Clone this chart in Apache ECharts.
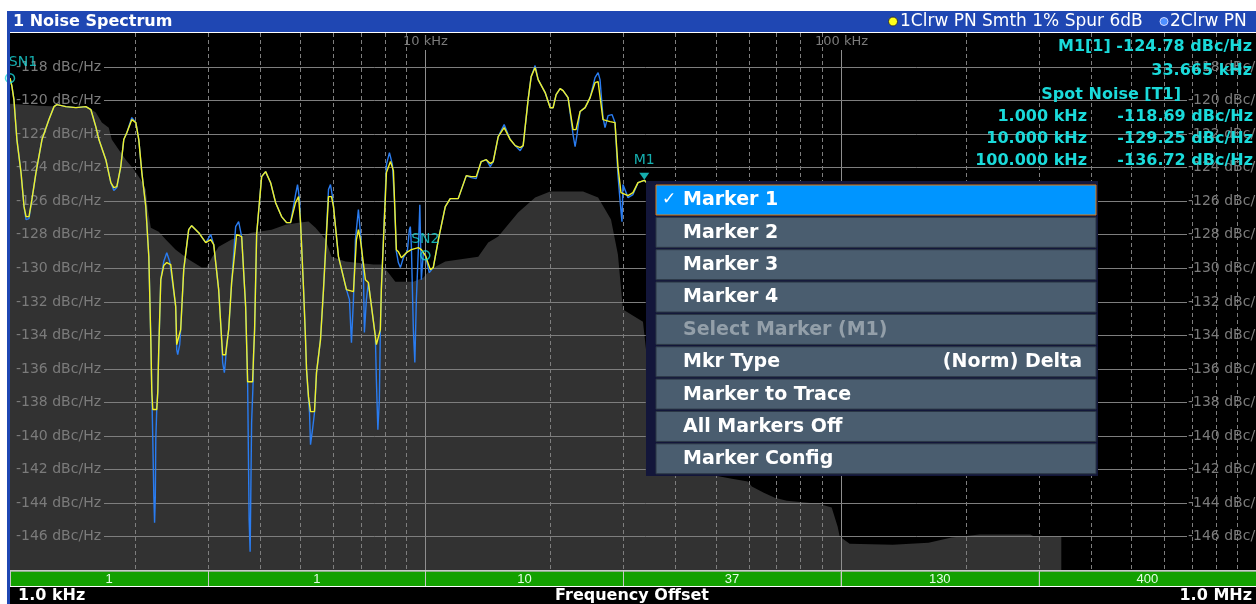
<!DOCTYPE html>
<html>
<head>
<meta charset="utf-8">
<script src="https://cdn.jsdelivr.net/npm/echarts@6/dist/echarts.min.js"></script>
<style>
  html, body { margin: 0; padding: 0; background: #ffffff; }
  #chart { width: 1256px; height: 604px; }
</style>
</head>
<body>
<div id="chart"></div>
<script>
// ---- axis ticks (frequency in kHz, level in dBc/Hz) ----
const yTicks = [-118, -120, -122, -124, -126, -128, -130, -132, -134, -136, -138, -140, -142, -144, -146];
const xMinorTicks = [2, 3, 4, 5, 6, 7, 8, 9, 20, 30, 40, 50, 60, 70, 80, 90, 200, 300, 400, 500, 600, 700, 800, 900];
const xDecadeTicks = [10, 100];

// ---- half-decade band strip under the diagram ----
const bandEdges = [1, 3, 10, 30, 100, 300, 1000];
const bandLabels = ['1', '1', '10', '37', '130', '400'];

// ---- grey reference profile [kHz, dBc/Hz] ----
const fillProfile = [
  [1.000,-120.21],[1.174,-120.33],[1.548,-120.45],[1.609,-120.74],[1.664,-121.34],[1.729,-121.64],
  [1.758,-122.35],[1.828,-122.95],[1.900,-123.55],[1.987,-124.14],[2.065,-124.74],[2.123,-125.33],
  [2.147,-126.52],[2.183,-127.60],[2.281,-127.84],[2.371,-128.31],[2.506,-128.91],[2.693,-129.50],
  [2.895,-129.98],[2.976,-129.98],[3.060,-129.39],[3.180,-128.73],[3.417,-128.31],[3.817,-127.90],
  [4.265,-127.72],[4.608,-127.42],[4.952,-127.30],[5.233,-127.24],[5.440,-127.60],[5.750,-128.31],
  [5.943,-129.33],[6.423,-129.62],[7.499,-129.80],[7.836,-129.80],[8.149,-130.28],[8.469,-130.82],
  [9.357,-130.82],[9.890,-130.58],[10.28,-130.10],[11.17,-129.62],[13.41,-129.33],[14.17,-128.49],
  [14.98,-128.13],[16.73,-126.70],[18.38,-125.81],[19.98,-125.45],[23.98,-125.45],[26.06,-125.81],
  [27.99,-127.12],[29.09,-129.21],[29.91,-132.48],[33.42,-133.20],[36.33,-141.42],[50.07,-142.38],
  [54.70,-142.56],[59.77,-142.73],[61.11,-143.03],[65.30,-143.39],[69.40,-143.69],[74.16,-143.87],
  [88.53,-144.05],[95.14,-144.28],[98.35,-145.42],[99.45,-146.00],[105.1,-146.43],[133.4,-146.49],
  [162.8,-146.37],[184.9,-146.07],[215.9,-145.89],[286.2,-145.89],[292.6,-146.00],[339.8,-146.00]
];

// ---- trace 1: clear/write, smoothed 1 % [kHz, dBc/Hz] ----
const trace1 = [
  [1.000,-118.69],[1.011,-119.19],[1.022,-119.97],[1.039,-122.35],[1.063,-124.32],[1.081,-126.35],
  [1.093,-126.94],[1.111,-126.94],[1.129,-125.93],[1.155,-124.32],[1.194,-122.35],[1.241,-121.16],
  [1.276,-120.39],[1.297,-120.27],[1.363,-120.39],[1.441,-120.45],[1.523,-120.39],[1.566,-120.57],
  [1.609,-121.58],[1.637,-122.35],[1.701,-123.55],[1.749,-124.92],[1.778,-125.21],[1.808,-125.15],
  [1.848,-123.96],[1.879,-122.35],[1.911,-121.94],[1.965,-121.16],[2.009,-121.34],[2.042,-122.35],
  [2.077,-124.32],[2.123,-126.35],[2.159,-129.33],[2.183,-134.27],[2.195,-137.37],[2.207,-138.44],
  [2.256,-138.44],[2.269,-137.37],[2.281,-134.87],[2.307,-130.70],[2.345,-129.86],[2.385,-129.68],
  [2.438,-129.80],[2.506,-132.31],[2.520,-134.57],[2.548,-134.57],[2.576,-133.68],[2.620,-130.10],
  [2.693,-127.72],[2.738,-127.48],[2.847,-127.90],[2.960,-128.49],[3.043,-128.31],[3.094,-128.61],
  [3.180,-131.29],[3.233,-134.27],[3.251,-135.17],[3.305,-135.17],[3.361,-133.68],[3.417,-130.87],
  [3.513,-128.01],[3.612,-128.13],[3.693,-132.31],[3.734,-136.78],[3.838,-136.78],[3.859,-135.17],
  [3.881,-133.68],[3.925,-128.01],[4.035,-124.56],[4.125,-124.26],[4.241,-124.92],[4.360,-126.11],
  [4.507,-126.94],[4.634,-127.30],[4.737,-127.30],[4.870,-126.11],[4.952,-125.75],[5.007,-127.30],
  [5.091,-131.29],[5.147,-134.27],[5.176,-136.06],[5.233,-137.67],[5.291,-138.56],[5.409,-138.56],
  [5.470,-136.24],[5.592,-134.27],[5.686,-131.29],[5.846,-125.75],[5.943,-125.75],[6.010,-126.35],
  [6.178,-129.33],[6.458,-131.29],[6.713,-131.41],[6.825,-128.31],[6.900,-127.72],[6.977,-128.31],
  [7.173,-130.70],[7.293,-130.87],[7.581,-134.09],[7.623,-134.57],[7.707,-134.57],[7.793,-133.68],
  [7.836,-131.29],[8.060,-124.32],[8.241,-123.66],[8.378,-124.20],[8.516,-128.91],[8.611,-129.03],
  [8.755,-129.39],[9.001,-129.09],[9.253,-128.91],[9.620,-128.79],[9.781,-128.91],[10.00,-129.25],
  [10.28,-130.10],[10.45,-129.98],[10.75,-128.31],[11.17,-126.35],[11.48,-125.87],[12.00,-125.87],
  [12.55,-124.50],[12.90,-124.56],[13.26,-124.56],[13.63,-123.66],[14.02,-123.55],[14.33,-123.78],
  [14.57,-123.66],[14.98,-122.17],[15.48,-121.64],[16.01,-122.35],[16.46,-122.71],[16.92,-122.83],
  [17.20,-122.71],[17.68,-119.97],[17.98,-118.60],[18.38,-118.06],[18.69,-118.78],[19.43,-119.55],
  [19.98,-120.45],[20.31,-120.45],[20.65,-119.67],[21.11,-119.31],[21.46,-119.43],[22.06,-119.85],
  [22.68,-121.76],[23.06,-121.76],[23.58,-120.68],[24.25,-120.45],[24.93,-119.85],[25.62,-118.96],
  [26.06,-118.90],[26.34,-118.96],[26.78,-121.16],[27.84,-121.28],[28.62,-121.34],[29.09,-123.96],
  [29.58,-125.51],[30.76,-125.69],[31.62,-125.51],[32.51,-124.92],[33.665,-124.78],[36.33,-125.60],
  [45.32,-127.72],[63.17,-131.89],[100,-136.72],[137.1,-137.85],[213.5,-139.04]
];

// ---- trace 2: clear/write, raw [kHz, dBc/Hz] ----
const trace2 = [
  [1.000,-118.69],[1.011,-119.19],[1.022,-119.97],[1.039,-122.35],[1.063,-124.32],[1.081,-126.35],
  [1.093,-127.12],[1.111,-127.06],[1.129,-125.93],[1.155,-124.32],[1.194,-122.35],[1.241,-121.16],
  [1.276,-120.39],[1.297,-120.27],[1.363,-120.39],[1.441,-120.45],[1.523,-120.39],[1.566,-120.57],
  [1.609,-121.58],[1.637,-122.35],[1.701,-123.55],[1.749,-124.92],[1.778,-125.39],[1.808,-125.21],
  [1.848,-123.96],[1.879,-122.35],[1.911,-121.94],[1.965,-121.04],[2.009,-121.34],[2.042,-122.35],
  [2.077,-124.32],[2.123,-126.35],[2.159,-129.33],[2.183,-134.27],[2.195,-137.37],[2.207,-140.23],
  [2.220,-143.63],[2.229,-145.18],[2.238,-143.63],[2.244,-140.23],[2.256,-138.44],[2.269,-137.37],
  [2.281,-134.87],[2.307,-130.70],[2.345,-129.62],[2.385,-129.09],[2.424,-129.62],[2.506,-132.31],
  [2.520,-134.87],[2.534,-135.17],[2.562,-134.57],[2.576,-133.68],[2.620,-130.10],[2.693,-127.72],
  [2.738,-127.48],[2.847,-127.90],[2.960,-128.49],[3.043,-128.01],[3.094,-128.61],[3.180,-131.29],
  [3.233,-134.27],[3.251,-135.64],[3.282,-136.24],[3.305,-135.46],[3.324,-134.57],[3.361,-133.68],
  [3.417,-130.87],[3.494,-127.54],[3.552,-127.24],[3.612,-128.13],[3.693,-132.31],[3.734,-136.95],
  [3.765,-145.00],[3.786,-146.91],[3.817,-139.22],[3.849,-136.83],[3.859,-135.17],[3.881,-133.68],
  [3.925,-128.01],[4.035,-124.56],[4.125,-124.26],[4.241,-124.92],[4.360,-126.11],[4.507,-126.94],
  [4.634,-127.30],[4.737,-127.30],[4.870,-125.63],[4.924,-125.03],[4.979,-125.93],[5.007,-127.30],
  [5.091,-131.29],[5.147,-134.27],[5.176,-136.06],[5.233,-137.85],[5.262,-138.62],[5.291,-140.53],
  [5.350,-139.64],[5.409,-138.62],[5.470,-136.24],[5.592,-134.27],[5.686,-131.29],[5.846,-125.33],
  [5.911,-125.03],[5.976,-125.75],[6.010,-126.35],[6.178,-129.33],[6.458,-131.29],[6.566,-131.89],
  [6.639,-134.45],[6.713,-131.89],[6.787,-128.31],[6.900,-126.52],[6.977,-127.90],[7.094,-130.28],
  [7.133,-133.85],[7.212,-131.89],[7.293,-130.87],[7.581,-134.09],[7.623,-136.66],[7.686,-139.64],
  [7.750,-137.85],[7.793,-133.68],[7.836,-131.29],[8.060,-123.84],[8.195,-123.13],[8.332,-123.84],
  [8.424,-125.93],[8.516,-129.03],[8.611,-129.68],[8.707,-129.98],[8.853,-129.39],[9.051,-129.00],
  [9.152,-127.72],[9.202,-127.54],[9.253,-128.61],[9.357,-133.68],[9.435,-135.64],[9.514,-131.89],
  [9.620,-128.91],[9.700,-126.23],[9.781,-130.70],[9.890,-129.09],[10.00,-129.25],[10.22,-130.28],
  [10.45,-129.98],[10.75,-128.31],[11.17,-126.35],[11.48,-125.87],[12.00,-125.87],[12.55,-124.50],
  [12.90,-124.62],[13.26,-124.68],[13.63,-123.66],[14.02,-123.55],[14.33,-123.96],[14.57,-123.66],
  [14.98,-122.17],[15.48,-121.46],[16.01,-122.35],[16.46,-122.71],[16.92,-123.01],[17.20,-122.71],
  [17.68,-119.97],[17.98,-118.60],[18.38,-117.94],[18.69,-118.78],[19.43,-119.55],[19.98,-120.45],
  [20.31,-120.45],[20.65,-119.67],[21.11,-119.31],[21.46,-119.43],[22.06,-119.85],[22.68,-122.05],
  [22.94,-122.77],[23.19,-122.05],[23.58,-120.68],[24.25,-120.45],[24.93,-119.85],[25.62,-118.66],
  [26.06,-118.36],[26.34,-118.78],[26.78,-121.04],[27.08,-121.64],[27.54,-120.92],[28.15,-120.86],
  [28.62,-121.34],[29.09,-124.44],[29.42,-125.93],[29.75,-127.24],[29.91,-125.03],[30.76,-125.81],
  [31.62,-125.63],[32.51,-124.92],[33.665,-124.78],[36.33,-125.60],[45.32,-127.72],[63.17,-131.89],
  [100,-136.72],[137.1,-137.85],[213.5,-139.04]
];

// ---- markers ----
const spotMarkers = [[1, -118.69, 'SN1'], [10, -129.25, 'SN2'], [100, -136.72, 'SN3']];
const marker1 = [33.665, -124.78, 'M1'];

// ---- context menu entries ----
const menuItems = ['Marker 1', 'Marker 2', 'Marker 3', 'Marker 4', 'Select Marker (M1)',
                   'Mkr Type', 'Marker to Trace', 'All Markers Off', 'Marker Config'];
const menuChecked = 0;
const menuDisabled = 4;
const menuRightText = { 5: '(Norm) Delta' };

// ---------------------------------------------------------------
const GRID_GREY = '#7e7e7e';
const LABEL_GREY = '#7b7b7b';
const CYAN = '#1adada';
const FONT = 'DejaVu Sans';

const G = [];
function rect(x, y, w, h, fill, stroke, lw) {
  G.push({ type: 'rect', z: 100, silent: true, shape: { x: x, y: y, width: w, height: h },
           style: { fill: fill, stroke: stroke || null, lineWidth: lw || 0 } });
}
function text(x, y, t, opt) {
  const st = Object.assign({ text: t, fill: '#ffffff', fontFamily: FONT, fontSize: 16, fontWeight: 'normal',
                             align: 'left', verticalAlign: 'middle' }, opt || {});
  st.textAlign = st.align; st.textVerticalAlign = st.verticalAlign;
  G.push({ type: 'text', z: 101, silent: true, x: x, y: y, style: st });
}
function circle(cx, cy, r, fill, stroke) {
  G.push({ type: 'circle', z: 101, silent: true, shape: { cx: cx, cy: cy, r: r },
           style: { fill: fill, stroke: stroke, lineWidth: 1 } });
}

// window title bar + frame
rect(7, 11, 1249, 21, '#1f47b3');
rect(7, 11, 3, 593, '#1f47b3');
text(13, 21.5, '1 Noise Spectrum', { fontWeight: 'bold', fontSize: 16 });
circle(893, 21.5, 4.5, '#ffff1a', '#333333');
text(900, 21.5, '1Clrw PN Smth 1% Spur 6dB', { fontSize: 17 });
circle(1164, 21.5, 4, '#4d8fff', '#d0d8ff');
text(1170, 21.5, '2Clrw PN', { fontSize: 17 });

// bottom status line
rect(10, 587, 1246, 17, '#000000');
text(18, 596, '1.0 kHz', { fontWeight: 'bold', fontSize: 16 });
text(632, 596, 'Frequency Offset', { fontWeight: 'bold', fontSize: 16, align: 'center' });
text(1252, 596, '1.0 MHz', { fontWeight: 'bold', fontSize: 16, align: 'right' });

// marker / spot noise readout
const infoFont = { fontWeight: 'bold', fontSize: 16, fill: CYAN, align: 'right' };
text(1252, 47, 'M1[1] ' + marker1[1].toFixed(2) + ' dBc/Hz', infoFont);
text(1252, 71, marker1[0].toFixed(3) + ' kHz', infoFont);
text(1181, 95, 'Spot Noise [T1]', infoFont);
spotMarkers.forEach(function (m, i) {
  const y = 117 + i * 22;
  text(1087, y, m[0].toFixed(3) + ' kHz', infoFont);
  text(1253, y, m[1].toFixed(2) + ' dBc/Hz', infoFont);
});

// context menu
rect(646, 181, 452, 295, '#13163a');
menuItems.forEach(function (label, i) {
  const y = 185 + i * 32.35;
  const active = i === menuChecked;
  rect(656, y, 440, 30, active ? '#0095ff' : '#4a5d6f', active ? '#e0780c' : '#2b3744', 1);
  if (active) text(669, y + 15, '\u2713', { fontSize: 17, align: 'center' });
  text(683, y + 15.5, label, { fontWeight: 'bold', fontSize: 19, fill: i === menuDisabled ? '#939fa9' : '#ffffff' });
  if (menuRightText[i]) text(1082, y + 15.5, menuRightText[i], { fontWeight: 'bold', fontSize: 19, align: 'right' });
});

// ---------------------------------------------------------------
const chart = echarts.init(document.getElementById('chart'), null, { renderer: 'canvas' });

const option = {
  animation: false,
  backgroundColor: '#ffffff',
  grid: [
    { left: 10, right: 0, top: 33, height: 537, show: true, backgroundColor: '#000000', borderWidth: 0 },
    { left: 10, right: 0, top: 571, height: 15, show: false }
  ],
  xAxis: [
    { type: 'log', logBase: 10, min: 1, max: 1000, gridIndex: 0,
      axisLine: { show: false }, axisTick: { show: false }, axisLabel: { show: false },
      splitLine: { show: false } },
    { type: 'log', logBase: 10, min: 1, max: 1000, gridIndex: 1, show: false }
  ],
  yAxis: [
    { type: 'value', min: -148, max: -116, gridIndex: 0,
      axisLine: { show: false }, axisTick: { show: false }, axisLabel: { show: false },
      splitLine: { show: false } },
    { type: 'value', min: 0, max: 1, gridIndex: 1, show: false }
  ],
  series: [
    { // grey reference area
      type: 'line', xAxisIndex: 0, yAxisIndex: 0, z: 1, silent: true,
      data: fillProfile, symbol: 'none',
      lineStyle: { width: 0, color: '#323232' },
      areaStyle: { color: '#323232', opacity: 1, origin: 'start' }
    },
    { // dashed vertical grid lines 2..9 per decade
      type: 'custom', xAxisIndex: 0, yAxisIndex: 0, z: 2, silent: true,
      data: xMinorTicks.map(function (f) { return [f, -116]; }),
      renderItem: function (params, api) {
        const cs = params.coordSys;
        const x = Math.round(api.coord([api.value(0), -116])[0]) + 0.5;
        return { type: 'line', shape: { x1: x, y1: cs.y, x2: x, y2: cs.y + cs.height },
                 style: { stroke: GRID_GREY, lineWidth: 1, lineDash: [4, 3] } };
      }
    },
    { // solid decade lines with frequency captions
      type: 'custom', xAxisIndex: 0, yAxisIndex: 0, z: 2, silent: true,
      data: xDecadeTicks.map(function (f) { return [f, -116]; }),
      renderItem: function (params, api) {
        const cs = params.coordSys;
        const f = api.value(0);
        const x = Math.round(api.coord([f, -116])[0]) + 0.5;
        return { type: 'group', children: [
          { type: 'line', shape: { x1: x, y1: cs.y + 17, x2: x, y2: cs.y + cs.height },
            style: { stroke: '#8e8e8e', lineWidth: 1 } },
          { type: 'text', x: x, y: cs.y + 9,
            style: { text: f + ' kHz', fill: LABEL_GREY, fontFamily: FONT, fontSize: 13,
                     align: 'center', verticalAlign: 'middle' } }
        ] };
      }
    },
    { // horizontal level lines with labels at both ends
      type: 'custom', xAxisIndex: 0, yAxisIndex: 0, z: 2, silent: true,
      data: yTicks.map(function (v) { return [1, v]; }),
      renderItem: function (params, api) {
        const cs = params.coordSys;
        const v = api.value(1);
        const y = Math.round(api.coord([1, v])[1]) + 0.5;
        const label = v + ' dBc/Hz';
        const ts = { text: label, fill: LABEL_GREY, fontFamily: FONT, fontSize: 14,
                     align: 'left', verticalAlign: 'middle' };
        return { type: 'group', children: [
          { type: 'line', shape: { x1: cs.x + 94, y1: y, x2: cs.x + cs.width - 69, y2: y },
            style: { stroke: GRID_GREY, lineWidth: 1 } },
          { type: 'text', x: cs.x + 6, y: y, style: ts },
          { type: 'text', x: cs.x + cs.width - 68, y: y, style: Object.assign({}, ts) }
        ] };
      }
    },
    { // trace 2 (raw)
      name: '2Clrw PN', type: 'line', xAxisIndex: 0, yAxisIndex: 0, z: 3, silent: true,
      data: trace2, symbol: 'none', lineStyle: { color: '#2a7cf0', width: 1.4 }
    },
    { // trace 1 (smoothed)
      name: '1Clrw PN', type: 'line', xAxisIndex: 0, yAxisIndex: 0, z: 4, silent: true,
      data: trace1, symbol: 'none', lineStyle: { color: '#f0f028', width: 1.4 }
    },
    { // spot noise markers
      type: 'scatter', xAxisIndex: 0, yAxisIndex: 0, z: 5, silent: true, clip: false,
      data: spotMarkers.map(function (m, i) {
        const d = { value: [m[0], m[1]], name: m[2] };
        if (i === 0) d.label = { offset: [13, 0] };
        return d;
      }),
      symbol: 'circle', symbolSize: 9,
      itemStyle: { color: 'rgba(0,0,0,0)', borderColor: CYAN, borderWidth: 1.5 },
      label: { show: true, position: 'top', distance: 4, formatter: '{b}', color: CYAN,
               fontFamily: FONT, fontSize: 14 }
    },
    { // normal marker M1
      type: 'scatter', xAxisIndex: 0, yAxisIndex: 0, z: 5, silent: true,
      data: [{ value: [marker1[0], marker1[1]], name: marker1[2] }],
      symbol: 'triangle', symbolRotate: 180, symbolSize: [10, 7], symbolOffset: [0, -4],
      itemStyle: { color: CYAN },
      label: { show: true, position: 'top', distance: 5, formatter: '{b}', color: CYAN,
               fontFamily: FONT, fontSize: 14 }
    },
    { // band strip
      type: 'custom', xAxisIndex: 1, yAxisIndex: 1, z: 2, silent: true,
      data: bandLabels.map(function (t, i) { return [bandEdges[i], 0]; }),
      renderItem: function (params, api) {
        const i = params.dataIndex;
        const cs = params.coordSys;
        const x0 = api.coord([bandEdges[i], 1])[0];
        const x1 = api.coord([bandEdges[i + 1], 1])[0];
        return { type: 'group', children: [
          { type: 'rect', shape: { x: x0, y: cs.y, width: x1 - x0, height: cs.height },
            style: { fill: '#13a000' } },
          { type: 'line', shape: { x1: x0, y1: cs.y, x2: x1, y2: cs.y },
            style: { stroke: '#b8b8b8', lineWidth: 1.5 } },
          { type: 'line', shape: { x1: Math.round(x0) + 0.5, y1: cs.y, x2: Math.round(x0) + 0.5, y2: cs.y + cs.height },
            style: { stroke: '#c8c8c8', lineWidth: 1 } },
          { type: 'text', x: (x0 + x1) / 2, y: cs.y + cs.height / 2 + 0.5,
            style: { text: bandLabels[i], fill: '#e6ffe6', fontFamily: 'Liberation Sans Narrow, Liberation Sans',
                     fontSize: 13, align: 'center', verticalAlign: 'middle' } }
        ] };
      }
    }
  ],
  graphic: G
};

chart.setOption(option);
</script>
</body>
</html>
